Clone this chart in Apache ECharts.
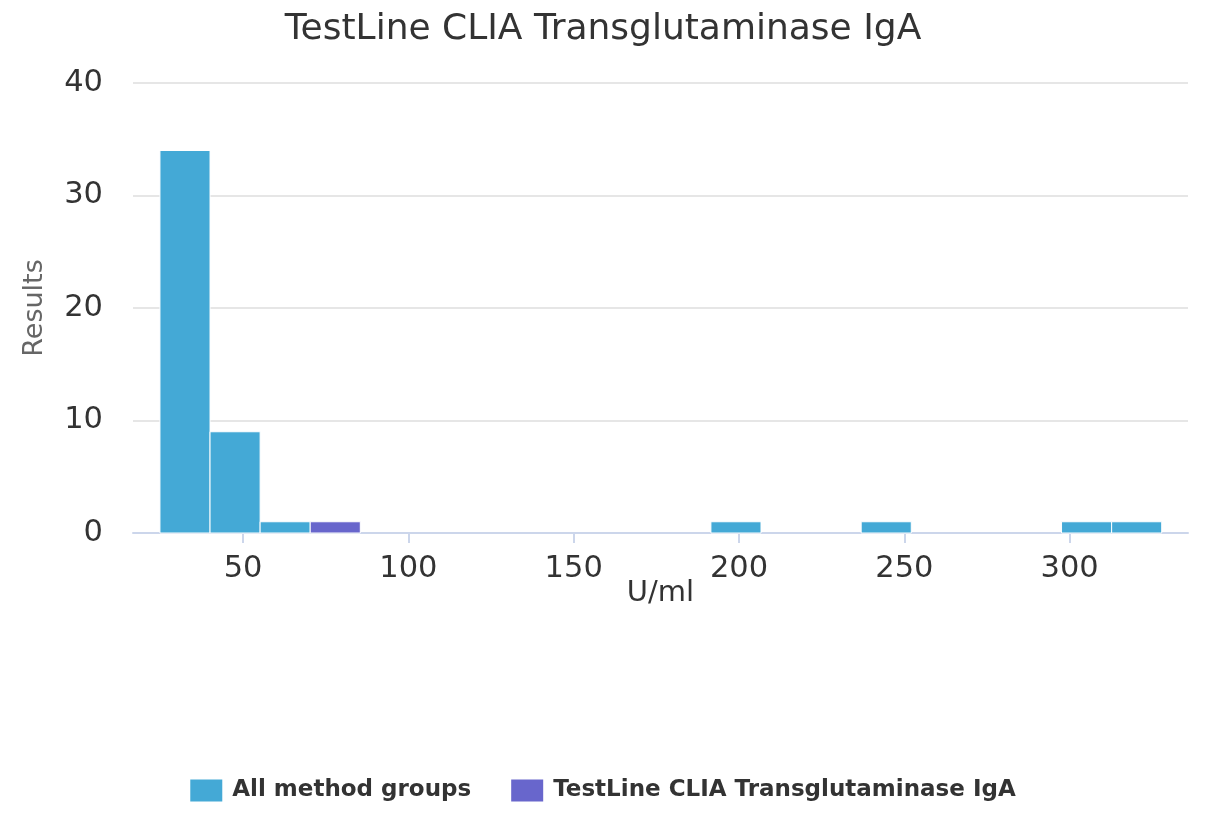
<!DOCTYPE html>
<html>
<head>
    <meta charset="utf-8">
    <title>TestLine CLIA Transglutaminase IgA</title>
    <script src="https://cdn.jsdelivr.net/npm/echarts@6/dist/echarts.min.js"></script>
    <style>
        html, body { margin: 0; padding: 0; background: #fff; }
        #main { width: 1206px; height: 814px; }
    </style>
</head>
<body>
    <div id="main"></div>
    <script type="text/javascript">
        // histogram bins (U/ml) and counts
        var binLow = [24.85, 40.0, 55.15, 70.3, 191.5, 236.95, 297.55, 312.7];
        var binHigh = [40.0, 55.15, 70.3, 85.45, 206.65, 252.1, 312.7, 327.85];
        var allCounts = [34, 9, 1, 0, 1, 1, 1, 1];
        var testLineCounts = [0, 0, 0, 1, 0, 0, 0, 0];
        var xTicks = [50, 100, 150, 200, 250, 300];
        var seriesNames = ['All method groups', 'TestLine CLIA Transglutaminase IgA'];
        var colors = ['#44a9d6', '#6866cc'];

        var font = 'DejaVu Sans';

        var toRows = function (counts) {
            var rows = [];
            for (var i = 0; i < counts.length; i++) {
                if (counts[i] > 0) rows.push([binLow[i], binHigh[i], counts[i]]);
            }
            return rows;
        };

        var renderBin = function (params, api) {
            var p0 = api.coord([api.value(0), api.value(2)]);
            var p1 = api.coord([api.value(1), 0]);
            return {
                type: 'rect',
                shape: { x: p0[0], y: p0[1], width: p1[0] - p0[0], height: p1[1] - p0[1] },
                style: { fill: api.visual('color'), stroke: '#ffffff', lineWidth: 1 }
            };
        };

        var myChart = echarts.init(document.getElementById('main'));
        var option = {
            animation: false,
            color: colors,
            title: {
                text: 'TestLine CLIA Transglutaminase IgA',
                left: 'center',
                top: 7,
                textStyle: { fontFamily: font, fontSize: 36, fontWeight: 'normal', color: '#333333' }
            },
            legend: {
                bottom: 7,
                left: 'center',
                icon: 'rect',
                itemWidth: 32,
                itemHeight: 22,
                itemGap: 40,
                data: seriesNames,
                textStyle: { fontFamily: font, fontSize: 23, fontWeight: 'bold', color: '#333333', padding: [0, 0, 0, 5] }
            },
            grid: { left: 133, right: 18, top: 83, bottom: 281 },
            xAxis: {
                type: 'value',
                min: 16.7,
                max: 335.8,
                name: 'U/ml',
                nameLocation: 'middle',
                nameGap: 46,
                nameMoveOverlap: false,
                nameTextStyle: { fontFamily: font, fontSize: 29, color: '#333333' },
                axisLine: { lineStyle: { color: '#ccd6eb', width: 2 } },
                axisTick: { show: true, length: 10, customValues: xTicks, lineStyle: { color: '#ccd6eb', width: 2 } },
                axisLabel: { customValues: xTicks, margin: 21, fontFamily: font, fontSize: 30.5, color: '#333333' },
                splitLine: { show: false }
            },
            yAxis: {
                type: 'value',
                min: 0,
                max: 40,
                interval: 10,
                name: 'Results',
                nameLocation: 'middle',
                nameGap: 85,
                nameMoveOverlap: false,
                nameTextStyle: { fontFamily: font, fontSize: 27, color: '#666666' },
                axisLine: { show: false },
                axisTick: { show: false },
                axisLabel: { margin: 30, fontFamily: font, fontSize: 30.5, color: '#333333' },
                splitLine: { lineStyle: { color: '#e6e6e6', width: 2 } }
            },
            series: [
                {
                    name: seriesNames[0],
                    type: 'custom',
                    renderItem: renderBin,
                    encode: { x: [0, 1], y: 2 },
                    data: toRows(allCounts)
                },
                {
                    name: seriesNames[1],
                    type: 'custom',
                    renderItem: renderBin,
                    encode: { x: [0, 1], y: 2 },
                    data: toRows(testLineCounts)
                }
            ]
        };
        myChart.setOption(option);
    </script>
</body>
</html>
